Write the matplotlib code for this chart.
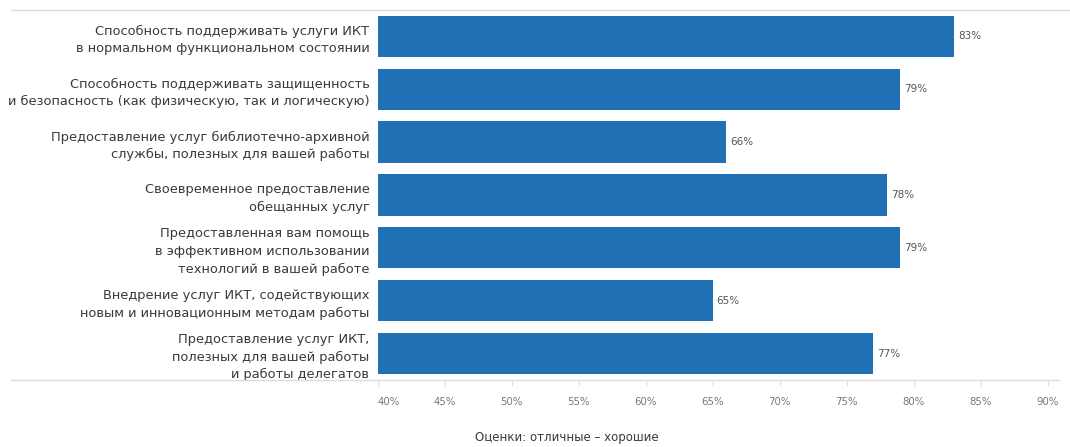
import matplotlib
matplotlib.use('Agg')
import matplotlib.pyplot as plt
from matplotlib.lines import Line2D

# данные
labels = [
    'Способность поддерживать услуги ИКТ\nв нормальном функциональном состоянии',
    'Способность поддерживать защищенность\nи безопасность (как физическую, так и логическую)',
    'Предоставление услуг библиотечно-архивной\nслужбы, полезных для вашей работы',
    'Своевременное предоставление\nобещанных услуг',
    'Предоставленная вам помощь\nв эффективном использовании\nтехнологий в вашей работе',
    'Внедрение услуг ИКТ, содействующих\nновым и инновационным методам работы',
    'Предоставление услуг ИКТ,\nполезных для вашей работы\nи работы делегатов',
]
values = [83, 79, 66, 78, 79, 65, 77]
ticks = [40, 45, 50, 55, 60, 65, 70, 75, 80, 85, 90]
xlabel = 'Оценки: отличные – хорошие'

plt.rcParams['font.family'] = ['DejaVu Sans']
bar_color = '#1f70b5'
text_color = '#3a3a3a'

fig = plt.figure(figsize=(10.7, 4.47), dpi=100)
ax = fig.add_axes([0.353, 0.150, 0.626, 0.828])

y = list(range(len(values)))
ax.barh(y, values, left=0, height=0.78, color=bar_color)
ax.set_xlim(40, 90)
ax.set_ylim(len(values) - 0.5, -0.5)

for yi, v in zip(y, values):
    ax.text(v + 0.3, yi, f'{v}%', va='center', ha='left', fontsize=7.5, color='#555555')

ax.set_yticks(y)
ax.set_yticklabels(labels, fontsize=9.4, color=text_color, linespacing=1.45)
ax.tick_params(axis='y', length=0, pad=6)

ax.set_xticks(ticks)
ax.set_xticklabels([f'{t}%' for t in ticks], fontsize=7.3, color='#777777')
ax.tick_params(axis='x', length=4, color='#dddddd', pad=8)
tl = ax.get_xticklabels()
tl[0].set_horizontalalignment('left')

for s in ['top', 'right', 'left', 'bottom']:
    ax.spines[s].set_visible(False)

# линии сверху и снизу
fig.add_artist(Line2D([0.01, 1.0], [0.978, 0.978], transform=fig.transFigure, color='#dddddd', lw=1))
fig.add_artist(Line2D([0.01, 0.99], [0.150, 0.150], transform=fig.transFigure, color='#dddddd', lw=1))

fig.text(0.53, 0.022, xlabel, ha='center', va='center', fontsize=8.5, color=text_color)

fig.savefig('out.png', dpi=100)
